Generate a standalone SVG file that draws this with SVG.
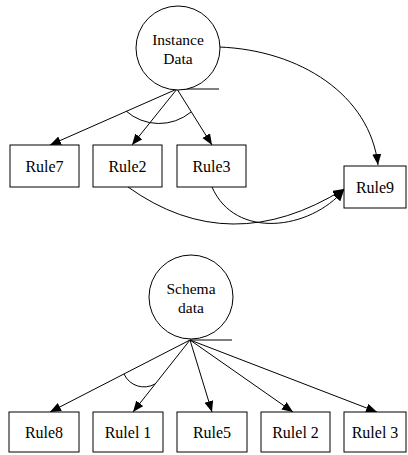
<svg xmlns="http://www.w3.org/2000/svg" width="408" height="455" viewBox="0 0 408 455" font-family="Liberation Serif" font-size="16" text-anchor="middle">
<style>
.box{fill:#fff;stroke:#000;stroke-width:1}
.circ{fill:#fff;stroke:#000;stroke-width:1}
.c{font-size:15.5px}
.e{fill:none;stroke:#000;stroke-width:1}
</style>
<defs>
<marker id="ah" markerUnits="userSpaceOnUse" markerWidth="12" markerHeight="10" refX="11" refY="4.5" orient="auto">
<path d="M0,0 L11,4.5 L0,9 z" fill="#000"/>
</marker>
</defs>
<g id="connectors">
<line class="e" x1="177" y1="89" x2="50" y2="145" marker-end="url(#ah)"/>
<line class="e" x1="177" y1="89" x2="132" y2="145" marker-end="url(#ah)"/>
<line class="e" x1="177" y1="89" x2="212" y2="145" marker-end="url(#ah)"/>
<line class="e" x1="177" y1="89" x2="219" y2="89"/>
<path class="e" d="M126,111 A50,50 0 0,0 191,112"/>
<path class="e" d="M219,47 C300,50 370,95 378,165" marker-end="url(#ah)"/>
<path class="e" d="M128,187 Q230,260 344,189" marker-end="url(#ah)"/>
<path class="e" d="M212,187 C235,240 310,230 344,190" marker-end="url(#ah)"/>
<line class="e" x1="190" y1="340" x2="50" y2="412" marker-end="url(#ah)"/>
<line class="e" x1="190" y1="340" x2="133" y2="412" marker-end="url(#ah)"/>
<line class="e" x1="190" y1="340" x2="212" y2="412" marker-end="url(#ah)"/>
<line class="e" x1="190" y1="340" x2="293" y2="412" marker-end="url(#ah)"/>
<line class="e" x1="190" y1="340" x2="377" y2="412" marker-end="url(#ah)"/>
<line class="e" x1="190" y1="340" x2="232" y2="340"/>
<path class="e" d="M124,374 A22,22 0 0,0 155,384"/>
</g>
<g id="instance-data">
<circle class="circ" cx="178" cy="48" r="42"/>
<text class="c" x="178" y="45">Instance</text>
<text class="c" x="178" y="64">Data</text>
</g>
<g id="rule7"><rect class="box" x="10" y="145" width="69" height="42"/><text x="44.5" y="172">Rule7</text></g>
<g id="rule2"><rect class="box" x="93" y="145" width="69" height="42"/><text x="127.5" y="172">Rule2</text></g>
<g id="rule3"><rect class="box" x="177" y="145" width="69" height="42"/><text x="211.5" y="172">Rule3</text></g>
<g id="rule9"><rect class="box" x="344" y="166" width="62" height="42"/><text x="375" y="193">Rule9</text></g>
<g id="schema-data">
<circle class="circ" cx="191" cy="297" r="42"/>
<text class="c" x="191" y="294">Schema</text>
<text class="c" x="191" y="313">data</text>
</g>
<g id="rule8"><rect class="box" x="9" y="412" width="70" height="40"/><text x="44" y="438">Rule8</text></g>
<g id="rule11"><rect class="box" x="93" y="412" width="70" height="40"/><text x="128" y="438">Rulel 1</text></g>
<g id="rule5"><rect class="box" x="177" y="412" width="70" height="40"/><text x="212" y="438">Rule5</text></g>
<g id="rule12"><rect class="box" x="261" y="412" width="69" height="40"/><text x="295.5" y="438">Rulel 2</text></g>
<g id="rule13"><rect class="box" x="344" y="412" width="62" height="40"/><text x="375" y="438">Rulel 3</text></g>
</svg>
